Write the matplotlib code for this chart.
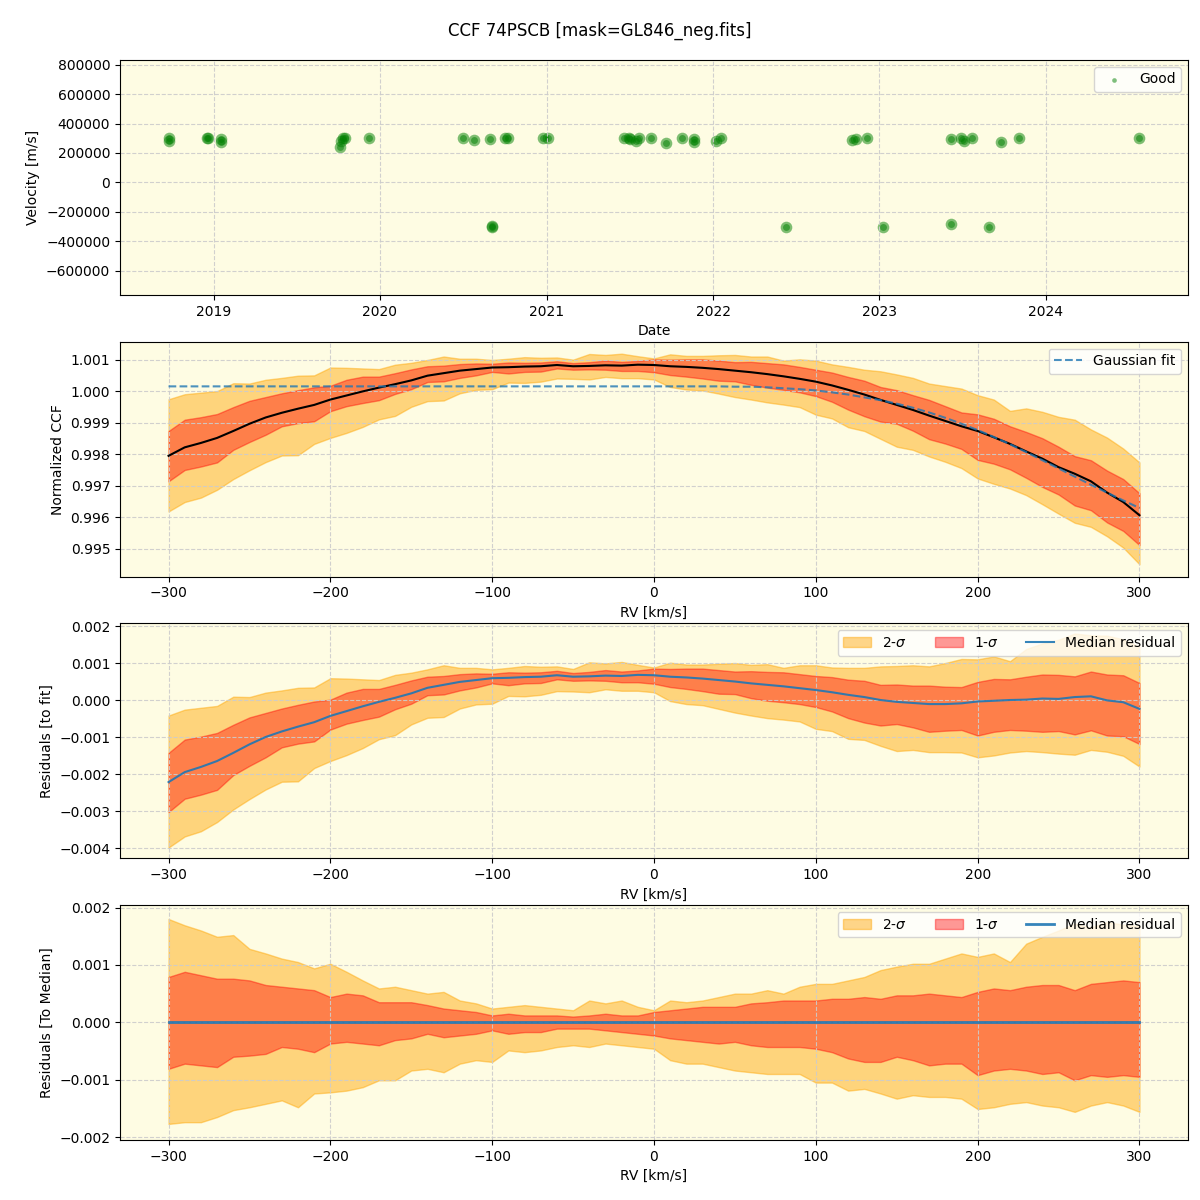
import numpy as np
import pandas as pd
import matplotlib
matplotlib.use("Agg")
import matplotlib.pyplot as plt

# --- RV time series (Good points) ---
obs_dates = ["2018-09-24", "2018-09-26", "2018-12-18", "2018-12-19", "2019-01-17", "2019-01-18",
             "2019-10-06", "2019-10-08", "2019-10-11", "2019-10-16", "2019-12-09",
             "2020-07-01", "2020-07-25", "2020-08-29", "2020-09-02", "2020-09-04",
             "2020-10-01", "2020-10-07", "2020-12-24", "2021-01-03",
             "2021-06-20", "2021-07-01", "2021-07-03", "2021-07-17", "2021-07-22", "2021-08-18",
             "2021-09-20", "2021-10-25", "2021-11-20", "2021-11-21", "2022-01-07", "2022-01-19",
             "2022-06-10", "2022-11-01", "2022-11-10", "2022-12-06", "2023-01-09",
             "2023-06-08", "2023-06-08", "2023-06-30", "2023-07-06", "2023-07-24", "2023-08-29",
             "2023-09-26", "2023-11-04", "2024-07-25"]
obs_rv = [284000, 300000, 300000, 302000, 293000, 277000,
          243000, 284000, 300000, 300000, 300000,
          300000, 289000, 295000, -302000, -300000,
          300000, 300000, 300000, 300000,
          300000, 300000, 298000, 284000, 300000, 300000,
          266000, 300000, 293000, 275000, 282000, 300000,
          -302000, 289000, 295000, 300000, -302000,
          293000, -286000, 300000, 284000, 300000, -302000,
          273000, 300000, 300000]

# --- CCF profile, sampled every 10 km/s ---
rv = list(range(-300, 301, 10))
ccf_median = [0.99795, 0.99822, 0.99836, 0.99852, 0.99874, 0.99897, 0.99917, 0.99932, 0.99945, 0.99957,
              0.99974, 0.99987, 1.00000, 1.00012, 1.00023, 1.00035, 1.00050, 1.00058, 1.00066, 1.00071,
              1.00076, 1.00077, 1.00079, 1.00080, 1.00084, 1.00080, 1.00081, 1.00083, 1.00082, 1.00085,
              1.00084, 1.00080, 1.00078, 1.00075, 1.00071, 1.00066, 1.00061, 1.00055, 1.00048, 1.00040,
              1.00031, 1.00019, 1.00005, 0.99990, 0.99973, 0.99957, 0.99941, 0.99923, 0.99906, 0.99889,
              0.99874, 0.99854, 0.99833, 0.99809, 0.99786, 0.99759, 0.99738, 0.99714, 0.99678, 0.99648,
              0.99606]
gauss_fit = [1.00016] * 35 + [1.00015, 1.00015, 1.00013, 1.00010, 1.00007, 1.00003, 0.99997, 0.99990,
                              0.99981, 0.99972, 0.99961, 0.99948, 0.99933, 0.99916, 0.99897, 0.99877,
                              0.99855, 0.99832, 0.99807, 0.99781, 0.99755, 0.99729, 0.99703, 0.99678,
                              0.99653, 0.99629]
# band edges relative to the median profile
up2 = [0.00180, 0.00169, 0.00160, 0.00149, 0.00152, 0.00128, 0.00120, 0.00111, 0.00105, 0.00094,
       0.00102, 0.00088, 0.00073, 0.00059, 0.00062, 0.00056, 0.00050, 0.00053, 0.00038, 0.00033,
       0.00024, 0.00027, 0.00030, 0.00027, 0.00024, 0.00021, 0.00038, 0.00033, 0.00038, 0.00027,
       0.00021, 0.00038, 0.00035, 0.00038, 0.00044, 0.00050, 0.00050, 0.00056, 0.00050, 0.00062,
       0.00067, 0.00067, 0.00073, 0.00079, 0.00091, 0.00097, 0.00102, 0.00102, 0.00111, 0.00120,
       0.00114, 0.00120, 0.00105, 0.00137, 0.00149, 0.00160, 0.00172, 0.00165, 0.00175, 0.00170,
       0.00168]
up1 = [0.00079, 0.00088, 0.00082, 0.00076, 0.00076, 0.00073, 0.00065, 0.00062, 0.00059, 0.00056,
       0.00044, 0.00050, 0.00047, 0.00035, 0.00035, 0.00035, 0.00030, 0.00024, 0.00021, 0.00018,
       0.00012, 0.00015, 0.00012, 0.00012, 0.00012, 0.00010, 0.00012, 0.00015, 0.00012, 0.00012,
       0.00018, 0.00021, 0.00024, 0.00027, 0.00027, 0.00027, 0.00033, 0.00035, 0.00038, 0.00038,
       0.00038, 0.00041, 0.00041, 0.00044, 0.00041, 0.00047, 0.00047, 0.00050, 0.00047, 0.00044,
       0.00053, 0.00059, 0.00056, 0.00062, 0.00065, 0.00065, 0.00056, 0.00067, 0.00070, 0.00073,
       0.00070]
lo1 = [-0.00081, -0.00072, -0.00075, -0.00078, -0.00060, -0.00058, -0.00055, -0.00043, -0.00046, -0.00052,
       -0.00037, -0.00034, -0.00037, -0.00040, -0.00031, -0.00028, -0.00020, -0.00026, -0.00023, -0.00020,
       -0.00014, -0.00020, -0.00017, -0.00017, -0.00011, -0.00011, -0.00011, -0.00014, -0.00017, -0.00020,
       -0.00023, -0.00028, -0.00031, -0.00034, -0.00037, -0.00034, -0.00040, -0.00043, -0.00043, -0.00043,
       -0.00046, -0.00052, -0.00063, -0.00069, -0.00069, -0.00060, -0.00066, -0.00075, -0.00072, -0.00072,
       -0.00092, -0.00084, -0.00081, -0.00084, -0.00090, -0.00087, -0.00101, -0.00092, -0.00095, -0.00092,
       -0.00095]
lo2 = [-0.00177, -0.00174, -0.00174, -0.00165, -0.00153, -0.00148, -0.00142, -0.00136, -0.00148, -0.00124,
       -0.00122, -0.00119, -0.00113, -0.00101, -0.00101, -0.00084, -0.00081, -0.00087, -0.00072, -0.00066,
       -0.00069, -0.00049, -0.00052, -0.00049, -0.00043, -0.00040, -0.00043, -0.00037, -0.00040, -0.00043,
       -0.00046, -0.00066, -0.00072, -0.00072, -0.00078, -0.00084, -0.00087, -0.00090, -0.00090, -0.00090,
       -0.00105, -0.00105, -0.00119, -0.00116, -0.00124, -0.00133, -0.00127, -0.00130, -0.00130, -0.00133,
       -0.00151, -0.00148, -0.00142, -0.00139, -0.00145, -0.00148, -0.00156, -0.00145, -0.00139, -0.00145,
       -0.00156]

bg = "#fefce3"
c2 = "orange"
c1 = "red"

rv = np.array(rv)
med = np.array(ccf_median)
fit = np.array(gauss_fit)
up2, up1, lo1, lo2 = map(np.array, (up2, up1, lo1, lo2))

fig, axes = plt.subplots(4, 1, figsize=(12, 12), dpi=100)
fig.suptitle("CCF 74PSCB [mask=GL846_neg.fits]", y=0.982)
fig.subplots_adjust(left=0.1, right=0.99, top=0.95, bottom=0.05, hspace=0.2)

# panel 1: velocities vs date
ax = axes[0]
dates = pd.to_datetime(obs_dates)
ax.scatter(dates, obs_rv, color="green", s=70, alpha=0.5, linewidths=0, label="Good")
ax.scatter(dates, obs_rv, color="green", s=25, alpha=0.5, linewidths=0)
ax.set_ylim(-765000, 832000)
ax.set_xlabel("Date")
ax.set_ylabel("Velocity [m/s]")
ax.legend(loc="upper right", markerscale=0.4)

# panel 2: CCF with bands and fit
ax = axes[1]
ax.fill_between(rv, med + lo2, med + up2, color=c2, alpha=0.45)
ax.fill_between(rv, med + lo1, med + up1, color=c1, alpha=0.4)
ax.plot(rv, med, color="black", lw=1.5)
ax.plot(rv, fit, "--", color="tab:blue", lw=1.5, alpha=0.8, label="Gaussian fit")
ax.set_ylim(0.99411, 1.00158)
ax.set_xlabel("RV [km/s]")
ax.set_ylabel("Normalized CCF")
ax.legend(loc="upper right")

# panel 3: residuals to the fit
ax = axes[2]
ax.fill_between(rv, med + lo2 - fit, med + up2 - fit, color=c2, alpha=0.45, label="2-$\\sigma$")
ax.fill_between(rv, med + lo1 - fit, med + up1 - fit, color=c1, alpha=0.4, label="1-$\\sigma$")
ax.plot(rv, med - fit, color="tab:blue", lw=1.5, alpha=0.9, label="Median residual")
ax.set_ylim(-0.00427, 0.00208)
ax.set_xlabel("RV [km/s]")
ax.set_ylabel("Residuals [to fit]")
ax.legend(loc="upper right", ncol=3)

# panel 4: residuals to the median
ax = axes[3]
ax.fill_between(rv, lo2, up2, color=c2, alpha=0.45, label="2-$\\sigma$")
ax.fill_between(rv, lo1, up1, color=c1, alpha=0.4, label="1-$\\sigma$")
ax.plot(rv, med - med, color="tab:blue", lw=2, alpha=0.9, label="Median residual")
ax.set_ylim(-0.00205, 0.00204)
ax.set_xlabel("RV [km/s]")
ax.set_ylabel("Residuals [To Median]")
ax.legend(loc="upper right", ncol=3)

for ax in axes:
    ax.set_facecolor(bg)
    ax.grid(True, ls="--", color="#cccccc", alpha=0.9)

plt.savefig("out.png")
